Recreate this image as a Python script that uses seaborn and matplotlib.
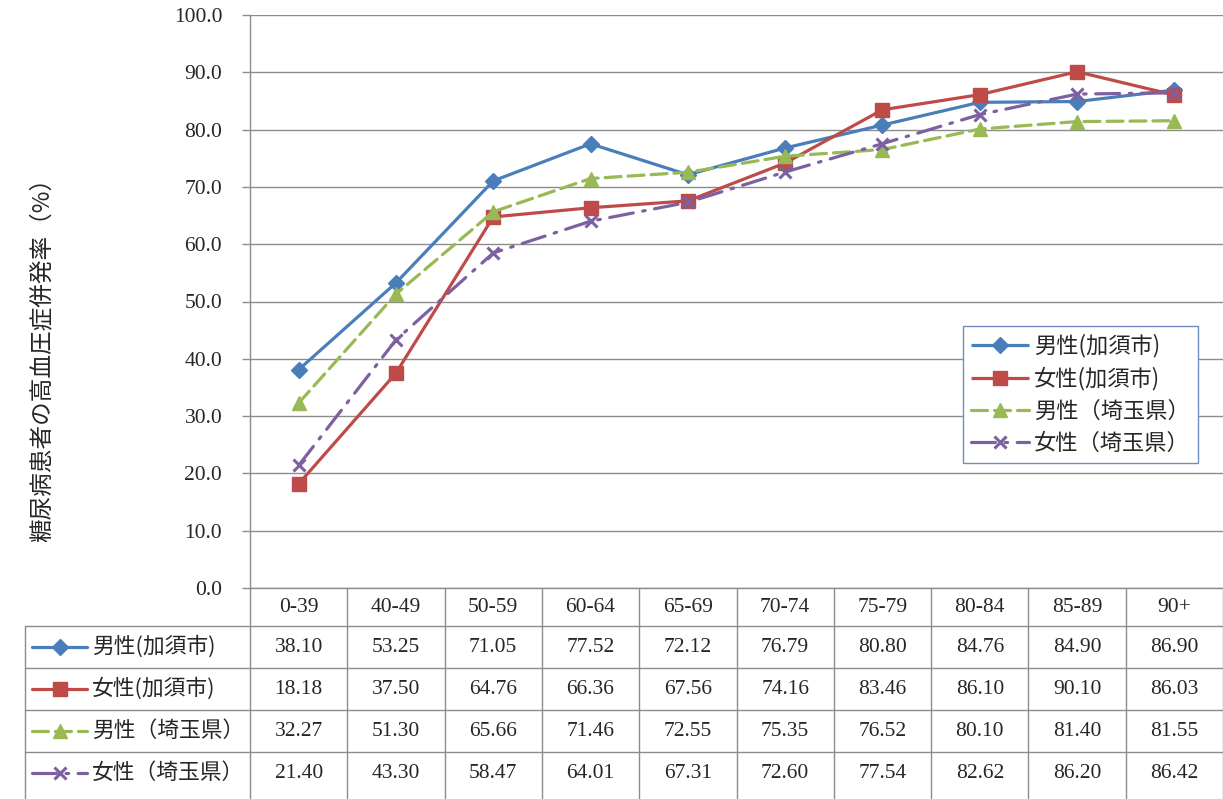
import numpy as np
import matplotlib
matplotlib.use("Agg")
import matplotlib.pyplot as plt
from matplotlib.lines import Line2D
import seaborn as sns

# ---- data ----
categories = ["0-39", "40-49", "50-59", "60-64", "65-69", "70-74", "75-79", "80-84", "85-89", "90+"]
male_kazo = [38.10, 53.25, 71.05, 77.52, 72.12, 76.79, 80.80, 84.76, 84.90, 86.90]
female_kazo = [18.18, 37.50, 64.76, 66.36, 67.56, 74.16, 83.46, 86.10, 90.10, 86.03]
male_saitama = [32.27, 51.30, 65.66, 71.46, 72.55, 75.35, 76.52, 80.10, 81.40, 81.55]
female_saitama = [21.40, 43.30, 58.47, 64.01, 67.31, 72.60, 77.54, 82.62, 86.20, 86.42]
series_labels = ["男性(加須市)", "女性(加須市)", "男性（埼玉県）", "女性（埼玉県）"]
y_label = "糖尿病患者の高血圧症併発率（%）"
y_ticks = [0, 10, 20, 30, 40, 50, 60, 70, 80, 90, 100]

sns.set_style("white")
plt.rcParams['font.family'] = ['Liberation Serif', 'Noto Sans CJK JP']
JP = ['Noto Sans CJK JP', 'DejaVu Sans']
NUM_FS = 15.5
JP_FS = 16

W, H = 1223, 799
fig = plt.figure(figsize=(W / 100, H / 100), dpi=100)

ax_l, ax_r, ax_t, ax_b = 250, 1223, 15, 588
ax = fig.add_axes([ax_l / W, 1 - ax_b / H, (ax_r - ax_l) / W, (ax_b - ax_t) / H])

colors = ['#4A7EBB', '#BE4B48', '#98B954', '#7D60A0']
markers = ['D', 's', '^', 'x']
msizes = [8, 10.5, 9.5, 9]
dashes = [None, None, (5, 2.2), (7.5, 3, 0.8, 3)]
series = [male_kazo, female_kazo, male_saitama, female_saitama]

xpos = np.arange(len(categories))
lines = []
for vals, lab, c, m, ms, d in zip(series, series_labels, colors, markers, msizes, dashes):
    sns.lineplot(x=xpos, y=vals, ax=ax, color=c, marker=m, markersize=ms,
                 markeredgecolor=c, markerfacecolor=c,
                 markeredgewidth=2.2 if m == 'x' else 1,
                 linewidth=2.3, label=lab, sort=False, errorbar=None)
    ln = ax.lines[-1]
    if d is not None:
        ln.set_dashes(d)
    ln.set_solid_capstyle('butt')
    ln.set_dash_capstyle('round')
    lines.append(ln)

ax.set_xlim(-0.5, len(categories) - 0.5)
ax.set_ylim(0, 100)
ax.set_yticks(y_ticks)
ax.set_yticklabels([f"{v:.1f}" for v in y_ticks], fontsize=NUM_FS)
ax.set_xticks([])
ax.set_xlabel("")
ax.set_ylabel("")
gray = '#8c8c8c'
ax.grid(axis='y', color=gray, linewidth=1)
ax.set_axisbelow(True)
for s in ['top', 'right']:
    ax.spines[s].set_visible(False)
for s in ['left', 'bottom']:
    ax.spines[s].set_color(gray)
    ax.spines[s].set_linewidth(1)
ax.tick_params(axis='y', direction='out', length=6, color=gray, width=1, pad=14, left=True)

leg = ax.legend(handles=lines, labels=series_labels, loc='upper left',
                bbox_to_anchor=((963 - ax_l) / (ax_r - ax_l), (ax_b - 326) / (ax_b - ax_t)),
                borderaxespad=0, prop={'family': JP, 'size': JP_FS}, frameon=True,
                fancybox=False, framealpha=1, edgecolor='#6d8fc4', handlelength=2.6,
                labelspacing=0.42, borderpad=0.35, handletextpad=0.25)
leg.get_frame().set_linewidth(1)

fig.text(42 / W, 1 - 354 / H, y_label, rotation=90, ha='center', va='center',
         fontsize=17, family=JP)

# ---- data table below the plot ----
tab = fig.add_axes([0, 0, 1, 1], facecolor='none')
tab.set_xlim(0, W)
tab.set_ylim(H, 0)
tab.axis('off')

col_centers = [ax.transData.transform((i, 0))[0] for i in xpos]
row_lines = [626, 668, 710, 752]
row_centers = [647, 689, 731, 773]
header_y = 607

# vertical separators
for i in range(len(categories) + 1):
    xb = ax.transData.transform((i - 0.5, 0))[0]
    tab.plot([xb, xb], [ax_b, H], color=gray, lw=1)
tab.plot([25, 25], [626, H], color=gray, lw=1)
for yl in row_lines:
    tab.plot([25, W], [yl, yl], color=gray, lw=1)

for cx, cat in zip(col_centers, categories):
    tab.text(cx, header_y, cat, ha='center', va='center', fontsize=NUM_FS)

for r, (vals, lab, c, m, ms, d) in enumerate(zip(series, series_labels, colors, markers, msizes, dashes)):
    yc = row_centers[r]
    key = Line2D([32, 87], [yc, yc], color=c, lw=2.3)
    if d is not None:
        key.set_dashes(d)
        key.set_dash_capstyle('round')
    tab.add_line(key)
    tab.plot([59.5], [yc], marker=m, markersize=ms, color=c, mec=c, mfc=c,
             mew=2.2 if m == 'x' else 1, linestyle='none')
    tab.text(92, yc, lab, ha='left', va='center', fontsize=JP_FS - 0.3, family=JP)
    for cx, v in zip(col_centers, vals):
        tab.text(cx, yc, f"{v:.2f}", ha='center', va='center', fontsize=NUM_FS)

fig.savefig("out.png", dpi=100)
